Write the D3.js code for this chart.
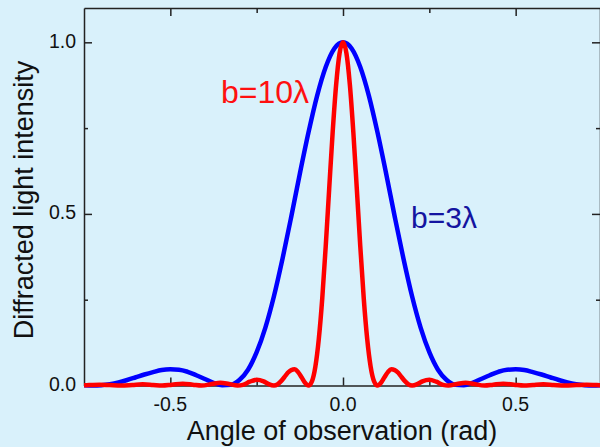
<!DOCTYPE html>
<html>
<head>
<meta charset="utf-8">
<script src="https://cdn.jsdelivr.net/npm/d3@7"></script>
<style>
    html, body { margin: 0; padding: 0; background: #d9f1fb; }
    svg { display: block; font-family: "Liberation Sans", Arial, sans-serif; }
</style>
</head>
<body>
<svg id="chart" width="600" height="447"></svg>
<script>
/*
    Diffraction pattern of a single slit, two slit widths
*/

// angles (rad)
const anglesWide = [
    -0.75, -0.735, -0.705, -0.675, -0.643, -0.61, -0.58, -0.55, -0.524, -0.495, -0.464, -0.435, -0.41,
    -0.38, -0.355, -0.33, -0.305, -0.29, -0.27, -0.25, -0.23, -0.215,
    -0.2, -0.19, -0.18, -0.17, -0.16, -0.15, -0.14, -0.13, -0.12, -0.11,
    -0.1, -0.09, -0.08, -0.07, -0.06, -0.05, -0.04, -0.03, -0.02, -0.01,
    0,
    0.01, 0.02, 0.03, 0.04, 0.05, 0.06, 0.07, 0.08, 0.09, 0.1,
    0.11, 0.12, 0.13, 0.14, 0.15, 0.16, 0.17, 0.18, 0.19, 0.2,
    0.215, 0.23, 0.25, 0.27, 0.29, 0.305, 0.33, 0.355, 0.38,
    0.41, 0.435, 0.464, 0.495, 0.524, 0.55, 0.58, 0.61, 0.643, 0.675, 0.705, 0.735, 0.75
];
// b = 10 lambda
const intensityWide = [
    0.0007, 0.0012, 0.0024, 0.0012, 0, 0.0017, 0.0034, 0.0017, 0, 0.0025, 0.005, 0.0025, 0,
    0.0042, 0.0083, 0.0044, 0, 0.002, 0.011, 0.0165, 0.012, 0.004,
    0, 0.003, 0.012, 0.024, 0.037, 0.045, 0.047, 0.039, 0.024, 0.008,
    0, 0.012, 0.055, 0.136, 0.255, 0.406, 0.573, 0.737, 0.875, 0.968,
    1,
    0.968, 0.875, 0.737, 0.573, 0.406, 0.255, 0.136, 0.055, 0.012, 0,
    0.008, 0.024, 0.039, 0.047, 0.045, 0.037, 0.024, 0.012, 0.003, 0,
    0.004, 0.012, 0.0165, 0.011, 0.002, 0, 0.0044, 0.0083, 0.0042,
    0, 0.0025, 0.005, 0.0025, 0, 0.0017, 0.0034, 0.0017, 0, 0.0012, 0.0024, 0.0012, 0.0007
];

const anglesNarrow = [
    -0.75, -0.725, -0.7, -0.675, -0.65, -0.625, -0.6, -0.575, -0.55, -0.525, -0.5,
    -0.475, -0.45, -0.425, -0.4, -0.375, -0.35, -0.325, -0.3, -0.275, -0.25,
    -0.225, -0.2, -0.175, -0.15, -0.125, -0.1, -0.075, -0.05, -0.025,
    0,
    0.025, 0.05, 0.075, 0.1, 0.125, 0.15, 0.175, 0.2, 0.225, 0.25,
    0.275, 0.3, 0.325, 0.35, 0.375, 0.4, 0.425, 0.45, 0.475, 0.5,
    0.525, 0.55, 0.575, 0.6, 0.625, 0.65, 0.675, 0.7, 0.725, 0.75
];
// b = 3 lambda
const intensityNarrow = [
    0.001, 0, 0.001, 0.004, 0.009, 0.016, 0.024, 0.032, 0.039, 0.045, 0.047,
    0.046, 0.04, 0.03, 0.019, 0.008, 0.001, 0.002, 0.016, 0.046, 0.097,
    0.168, 0.26, 0.37, 0.491, 0.617, 0.737, 0.844, 0.928, 0.982,
    1,
    0.982, 0.928, 0.844, 0.737, 0.617, 0.491, 0.37, 0.26, 0.168, 0.097,
    0.046, 0.016, 0.002, 0.001, 0.008, 0.019, 0.03, 0.04, 0.046, 0.047,
    0.045, 0.039, 0.032, 0.024, 0.016, 0.009, 0.004, 0.001, 0, 0.001
];

const xMajorTicks = [-0.5, 0, 0.5];
const xMinorTicks = [-0.25, 0.25];
const yMajorTicks = [0, 0.5, 1.0];
const yMinorTicks = [0.25, 0.75];

const margin = { left: 84, right: 602, top: 8, bottom: 385.5 };

const svg = d3.select("#chart");

svg.append("rect")
    .attr("width", 600)
    .attr("height", 447)
    .attr("fill", "#d9f1fb");

const x = d3.scaleLinear().domain([-0.75, 0.75]).range([margin.left, margin.right]);
const y = d3.scaleLinear().domain([0, 1.1]).range([margin.bottom, margin.top]);

svg.append("defs")
    .append("clipPath")
    .attr("id", "plot-clip")
    .append("rect")
    .attr("x", margin.left)
    .attr("y", margin.top - 5)
    .attr("width", margin.right - margin.left)
    .attr("height", margin.bottom - margin.top + 10);

// Axes: ticks point inwards on all four sides
const axisColor = "#222";

function addAxis(axis, transform, size) {
    const g = svg.append("g").attr("transform", transform).call(axis.tickSize(size).tickSizeOuter(0));
    g.select(".domain").attr("stroke", axisColor).attr("stroke-width", 1.5);
    g.selectAll(".tick line").attr("stroke", axisColor).attr("stroke-width", 1.5);
    g.selectAll(".tick text").remove();
    return g;
}

// bottom
addAxis(d3.axisTop(x).tickValues(xMajorTicks), `translate(0,${margin.bottom})`, 8);
addAxis(d3.axisTop(x).tickValues(xMinorTicks), `translate(0,${margin.bottom})`, 5).select(".domain").remove();
// top
addAxis(d3.axisBottom(x).tickValues(xMajorTicks), `translate(0,${margin.top})`, 8);
addAxis(d3.axisBottom(x).tickValues(xMinorTicks), `translate(0,${margin.top})`, 5).select(".domain").remove();
// left
addAxis(d3.axisRight(y).tickValues(yMajorTicks), `translate(${margin.left},0)`, 8);
addAxis(d3.axisRight(y).tickValues(yMinorTicks), `translate(${margin.left},0)`, 4).select(".domain").remove();
// right
addAxis(d3.axisLeft(y).tickValues(yMajorTicks), `translate(${margin.right - 2},0)`, 8);
addAxis(d3.axisLeft(y).tickValues(yMinorTicks), `translate(${margin.right - 2},0)`, 4).select(".domain").remove();

// Tick labels
svg.append("g")
    .selectAll("text")
    .data(xMajorTicks)
    .enter()
    .append("text")
    .attr("x", d => x(d))
    .attr("y", 411)
    .attr("text-anchor", "middle")
    .attr("font-size", "19.5px")
    .attr("fill", "#111")
    .text(d => d3.format(".1f")(d).replace("−", "-"));

svg.append("g")
    .selectAll("text")
    .data(yMajorTicks)
    .enter()
    .append("text")
    .attr("x", margin.left - 8)
    .attr("y", d => y(d) + 5.5)
    .attr("text-anchor", "end")
    .attr("font-size", "19.5px")
    .attr("fill", "#111")
    .text(d => d3.format(".1f")(d));

// Axis titles
svg.append("text")
    .attr("x", 342)
    .attr("y", 440)
    .attr("text-anchor", "middle")
    .attr("font-size", "27px")
    .attr("fill", "#111")
    .text("Angle of observation (rad)");

svg.append("text")
    .attr("transform", "translate(33,200) rotate(-90)")
    .attr("text-anchor", "middle")
    .attr("font-size", "27px")
    .attr("fill", "#111")
    .text("Diffracted light intensity");

// Curves
const line = d3.line().curve(d3.curveMonotoneX);
const plot = svg.append("g").attr("clip-path", "url(#plot-clip)");

plot.append("path")
    .attr("d", line(anglesNarrow.map((a, i) => [x(a), y(intensityNarrow[i])])))
    .attr("fill", "none")
    .attr("stroke", "#0000ff")
    .attr("stroke-width", 4.5)
    .attr("stroke-linejoin", "round");

plot.append("path")
    .attr("d", line(anglesWide.map((a, i) => [x(a), y(intensityWide[i])])))
    .attr("fill", "none")
    .attr("stroke", "#ff0000")
    .attr("stroke-width", 4.5)
    .attr("stroke-linejoin", "round");

// Curve labels
svg.append("text")
    .attr("x", 221)
    .attr("y", 103)
    .attr("font-size", "32px")
    .attr("fill", "#ff1010")
    .text("b=10λ");

svg.append("text")
    .attr("x", 411)
    .attr("y", 228)
    .attr("font-size", "30px")
    .attr("fill", "#1414a0")
    .text("b=3λ");
</script>
</body>
</html>
